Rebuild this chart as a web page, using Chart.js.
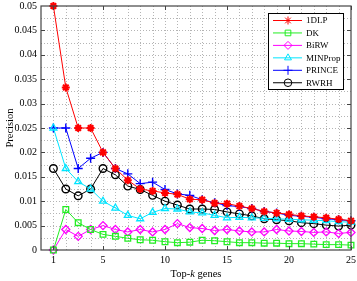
<!DOCTYPE html>
<html><head><meta charset="utf-8">
<script src="https://cdn.jsdelivr.net/npm/chart.js@4/dist/chart.umd.min.js"></script>
<style>html,body{margin:0;padding:0;background:#fff}#wrap{width:357px;height:281px}</style>
</head><body><div id="wrap"><canvas id="c" width="357" height="281"></canvas></div>
<script>
const topK = [1,2,3,4,5,6,7,8,9,10,11,12,13,14,15,16,17,18,19,20,21,22,23,24,25];
const xTickLabels = [1,5,10,15,20,25];
const seriesNames = ['1DLP','DK','BiRW','MINProp','PRINCE','RWRH'];
const dlp     = [0.05,0.0333,0.025,0.025,0.02,0.0167,0.0143,0.0125,0.0121,0.0117,0.0114,0.0104,0.0103,0.0096,0.0095,0.009,0.0085,0.0079,0.0076,0.0073,0.0070,0.0068,0.0066,0.0063,0.006];
const dk      = [0,0.0083,0.0056,0.0042,0.0032,0.0028,0.0024,0.0021,0.002,0.0017,0.0015,0.0016,0.002,0.0019,0.0017,0.0015,0.0015,0.0014,0.0014,0.0013,0.0013,0.0012,0.0011,0.0011,0.001];
const birw    = [0,0.0042,0.0028,0.0042,0.005,0.0042,0.0037,0.0042,0.0037,0.0042,0.0054,0.0046,0.0044,0.004,0.0042,0.0039,0.0037,0.0037,0.0042,0.0039,0.0038,0.0036,0.0037,0.0034,0.0036];
const minprop = [0.025,0.0167,0.014,0.0125,0.01,0.0086,0.0071,0.0064,0.0077,0.0085,0.0084,0.0078,0.0076,0.0071,0.0066,0.0067,0.0066,0.0065,0.0064,0.0063,0.0062,0.0061,0.006,0.0058,0.0057];
const prince  = [0.025,0.025,0.0167,0.0188,0.02,0.0167,0.0156,0.0136,0.0139,0.0124,0.0115,0.0112,0.0103,0.0097,0.0091,0.0089,0.0085,0.0079,0.0076,0.0071,0.0069,0.0067,0.0064,0.0062,0.006];
const rwrh    = [0.0167,0.0125,0.0111,0.0125,0.0167,0.0154,0.0131,0.0124,0.0112,0.01,0.0092,0.0084,0.0084,0.0083,0.0078,0.0074,0.007,0.0064,0.0062,0.006,0.0056,0.0054,0.0051,0.0049,0.0051];
const seriesValues = [dlp, dk, birw, minprop, prince, rwrh];
const colors = ['#ff0000','#22ee22','#ff00ff','#00e5ff','#0000ff','#000000'];
const styles = ['star','rect','rectRot','triangle','cross','circle'];
const radii  = [4,4,4,4,4.5,3.8];
const pbw    = [2,1.3,1.3,1.3,1.4,1.4];

const datasets = seriesNames.map((n,i)=>({
  label:n,
  data: topK.map((k,j)=>({x:k,y:seriesValues[i][j]})),
  borderColor: colors[i], backgroundColor:'rgba(0,0,0,0)',
  pointBorderColor: colors[i], pointBackgroundColor:'rgba(0,0,0,0)',
  borderWidth:1, pointStyle:styles[i], pointRadius:radii[i], pointBorderWidth: pbw[i],
  tension:0, clip:false
}));

const FRAME = '#444';
const plugin = {
  id:'deco',
  beforeDatasetsDraw(chart){
    const {ctx, chartArea:a, scales:{x,y}} = chart;
    ctx.save();
    ctx.strokeStyle='#b4b4b4'; ctx.lineWidth=1; ctx.setLineDash([1,2]);
    for(let k=1;k<25;k++){ const px=Math.round(x.getPixelForValue(k))+0.5;
      ctx.beginPath(); ctx.moveTo(px,a.top); ctx.lineTo(px,a.bottom); ctx.stroke(); }
    for(let i=1;i<20;i++){ const py=Math.round(y.getPixelForValue(i*0.0025))+0.5;
      ctx.beginPath(); ctx.moveTo(a.left,py); ctx.lineTo(a.right,py); ctx.stroke(); }
    ctx.restore();
  },
  afterDatasetsDraw(chart){
    const {ctx, chartArea:a, scales:{x,y}} = chart;
    ctx.save();
    ctx.strokeStyle=FRAME; ctx.lineWidth=1.2; ctx.setLineDash([]);
    ctx.strokeRect(a.left,a.top,a.right-a.left,a.bottom-a.top);
    ctx.lineWidth=1;
    xTickLabels.forEach(k=>{ const px=Math.round(x.getPixelForValue(k))+0.5;
      ctx.beginPath(); ctx.moveTo(px,a.bottom); ctx.lineTo(px,a.bottom-4);
      ctx.moveTo(px,a.top); ctx.lineTo(px,a.top+4); ctx.stroke(); });
    for(let i=1;i<10;i++){ const py=Math.round(y.getPixelForValue(i*0.005))+0.5;
      ctx.beginPath(); ctx.moveTo(a.left,py); ctx.lineTo(a.left+4,py);
      ctx.moveTo(a.right,py); ctx.lineTo(a.right-4,py); ctx.stroke(); }
    // legend
    const lx=268.5, ly=13.5, lw=75, lh=76;
    ctx.fillStyle='#fff'; ctx.fillRect(lx,ly,lw,lh);
    ctx.strokeStyle='#000'; ctx.lineWidth=1; ctx.strokeRect(lx,ly,lw,lh);
    ctx.font='9px "Liberation Serif"'; ctx.textBaseline='middle'; ctx.textAlign='left';
    seriesNames.forEach((n,i)=>{
      const yy=20.5+i*12.45;
      ctx.strokeStyle=colors[i]; ctx.lineWidth=1;
      ctx.beginPath(); ctx.moveTo(273,yy); ctx.lineTo(302,yy); ctx.stroke();
      ctx.fillStyle='rgba(0,0,0,0)';
      Chart.helpers.drawPoint(ctx,{pointStyle:styles[i],radius:radii[i],borderWidth:pbw[i],rotation:0},288,yy);
      ctx.fillStyle='#000'; ctx.fillText(n,306,yy+0.5);
    });
    // axis titles
    ctx.fillStyle='#000';
    ctx.save(); ctx.translate(10,(a.top+a.bottom)/2); ctx.rotate(-Math.PI/2);
    ctx.font='10.5px "Liberation Serif"'; ctx.textAlign='center'; ctx.textBaseline='middle';
    ctx.fillText('Precision',0,0); ctx.restore();
    const parts=[['Top-','10.5px "Liberation Serif"'],['k','italic 10.5px "Liberation Serif"'],[' genes','10.5px "Liberation Serif"']];
    let tw=0; parts.forEach(p=>{ctx.font=p[1]; tw+=ctx.measureText(p[0]).width;});
    let cx=(a.left+a.right)/2 - tw/2; ctx.textAlign='left'; ctx.textBaseline='middle';
    parts.forEach(p=>{ctx.font=p[1]; ctx.fillText(p[0],cx,274.5); cx+=ctx.measureText(p[0]).width;});
    ctx.restore();
  }
};

new Chart(document.getElementById('c'),{
  type:'line',
  data:{datasets},
  plugins:[plugin],
  options:{
    responsive:false, animation:false, devicePixelRatio:1,
    layout:{padding:{top:4,right:5,left:0,bottom:0}},
    plugins:{legend:{display:false},tooltip:{enabled:false}},
    scales:{
      x:{type:'linear',min:0,max:25,
        grid:{display:false,drawTicks:false}, border:{display:false},
        afterBuildTicks(s){ s.ticks = xTickLabels.map(v=>({value:v})); },
        ticks:{autoSkip:false,maxRotation:0,padding:4,color:'#000',font:{family:'Liberation Serif',size:10},callback:v=>String(v)},
        afterFit(s){ s.height=31; s.paddingLeft=0; s.paddingRight=0; }
      },
      y:{type:'linear',min:0,max:0.05,
        grid:{display:false,drawTicks:false}, border:{display:false},
        afterBuildTicks(s){ const t=[]; for(let i=0;i<=10;i++) t.push({value:i*0.005}); s.ticks=t; },
        ticks:{padding:4,color:'#000',font:{family:'Liberation Serif',size:10},callback:v=>String(Math.round(v*1000)/1000)},
        afterFit(s){ s.width=41; s.paddingTop=0; s.paddingBottom=0; }
      }
    }
  }
});
</script></body></html>
